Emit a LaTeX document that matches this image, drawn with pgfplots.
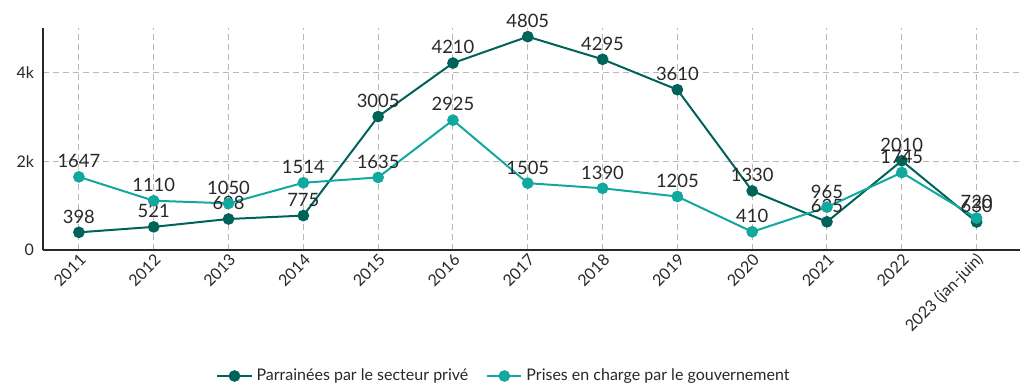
\documentclass[border=0pt]{standalone}
\usepackage{pgfplots}
\pgfplotsset{compat=1.18}
\usepackage{fontspec}
\setmainfont{Lato}
\definecolor{darkteal}{RGB}{0,99,90}
\definecolor{lightteal}{RGB}{18,168,158}
\definecolor{txt}{RGB}{40,40,40}
\begin{document}
\begin{tikzpicture}
\begin{axis}[
  at={(0,0)}, anchor=south west,
  scale only axis, width=488.5pt, height=111pt,
  xmin=-0.48, xmax=12.58, ymin=0, ymax=5000,
  axis x line*=bottom, axis y line*=left,
  axis line style={color=txt, line width=0.7pt},
  every axis plot/.append style={line width=1pt},
  xtick={0,...,12},
  xticklabels={2011,2012,2013,2014,2015,2016,2017,2018,2019,2020,2021,2022,2023 (jan-juin)},
  ytick={0,2000,4000}, yticklabels={0,2k,4k},
  major tick length=0pt,
  xticklabel style={rotate=45, anchor=east, font=\fontsize{8}{9}\selectfont, text=txt, inner sep=1pt, yshift=-4pt},
  yticklabel style={font=\fontsize{8}{9}\selectfont, text=txt, xshift=-1pt},
  grid=major,
  major grid style={gray!55, dash pattern=on 3pt off 2pt, line width=0.5pt},
  /pgf/number format/assume math mode=true,
  nodes near coords, point meta=explicit symbolic,
  every node near coord/.append style={font=\fontsize{9.2}{10}\selectfont, text=txt, inner sep=1pt, yshift=3pt},
  legend style={at={(231pt,-63pt)}, anchor=center, draw=none, legend columns=2,
    font=\fontsize{8}{10}\selectfont, text=txt,
    /tikz/every even column/.append style={column sep=7pt}},
  legend cell align=left,
  clip=false,
]
\addplot[darkteal, mark=*, mark size=2.4pt] table[x=x, y=y, meta=y] {
x y
0 398
1 521
2 698
3 775
4 3005
5 4210
6 4805
7 4295
8 3610
9 1330
10 635
11 2010
12 630
};
\addlegendentry{Parrainées par le secteur privé}
\addplot[lightteal, mark=*, mark size=2.4pt] table[x=x, y=y, meta=y] {
x y
0 1647
1 1110
2 1050
3 1514
4 1635
5 2925
6 1505
7 1390
8 1205
9 410
10 965
11 1745
12 720
};
\addlegendentry{Prises en charge par le gouvernement}
\end{axis}
\pgfresetboundingbox
\path (-21.5pt,-70pt) rectangle (490.5pt,125pt);
\end{tikzpicture}
\end{document}
